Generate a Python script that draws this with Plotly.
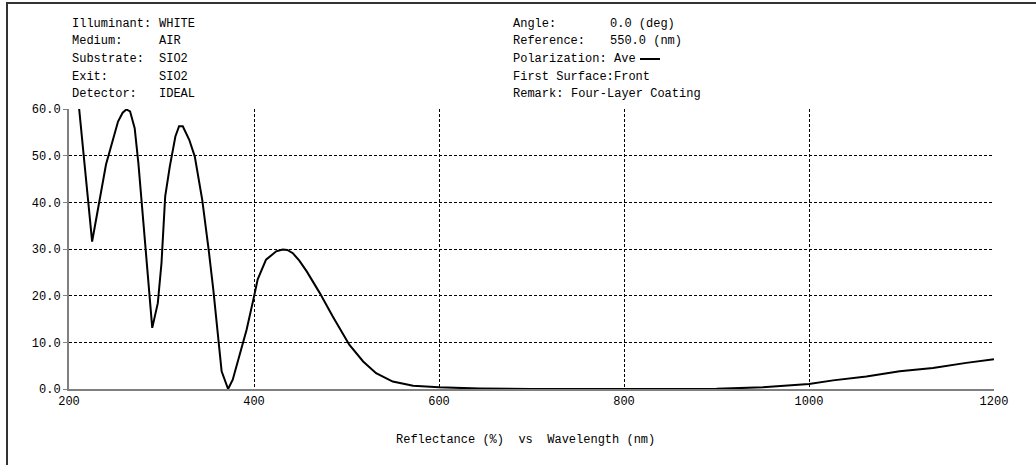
import plotly.graph_objects as go

# Data
wavelength = [210, 225, 240, 253, 258, 262, 266, 271, 275, 279, 283, 287, 290,
              296, 300, 304, 309, 315, 319, 323, 330, 336, 344, 351, 356, 365,
              372, 377, 384, 392, 400, 404, 413, 424, 431, 436, 442, 449, 457,
              471, 485, 503, 518, 532, 550, 572, 600, 644, 700, 800, 900, 950,
              1000, 1026, 1062, 1098, 1134, 1170, 1200]
reflectance = [62.0, 31.6, 48.1, 57.3, 59.2, 59.9, 59.5, 55.9, 48.4, 39.0, 29.8,
               21.3, 13.1, 18.4, 27.0, 41.3, 47.7, 54.1, 56.3, 56.3, 53.4, 49.8,
               40.6, 29.8, 21.3, 3.8, 0.0, 2.0, 7.0, 12.7, 19.8, 23.5, 27.7, 29.5,
               29.9, 29.8, 29.1, 27.5, 25.2, 20.6, 15.6, 9.5, 5.9, 3.4, 1.6, 0.7,
               0.35, 0.1, 0.02, 0.0, 0.05, 0.35, 1.07, 1.85, 2.7, 3.8, 4.5, 5.6, 6.4]

x_ticks = [200, 400, 600, 800, 1000, 1200]
x_tick_labels = ["200", "400", "600", "800", "1000", "1200"]
y_ticks = [0, 10, 20, 30, 40, 50, 60]
y_tick_labels = ["0.0", "10.0", "20.0", "30.0", "40.0", "50.0", "60.0"]

left_labels = ["Illuminant:", "Medium:", "Substrate:", "Exit:", "Detector:"]
left_values = ["WHITE", "AIR", "SIO2", "SIO2", "IDEAL"]
right_labels = ["Angle:", "Reference:", "Polarization:", "First Surface:", "Remark:"]
right_values = ["0.0 (deg)", "550.0 (nm)", "Ave", "Front", "Four-Layer Coating"]
x_title = "Reflectance (%)\u00a0\u00a0vs\u00a0\u00a0Wavelength (nm)"

W, H = 1036, 465
L, R, T, B = 69, 42, 109, 76
pw, ph = W - L - R, H - T - B


def px(x):
    return (x - L) / pw


def py(y):
    return (H - B - y) / ph


MONO = "Liberation Mono"

fig = go.Figure()
fig.add_trace(go.Scatter(x=wavelength, y=reflectance, mode="lines",
                         line=dict(color="black", width=2), showlegend=False))

annotations = []
row_y = [24, 41.5, 59, 76.5, 94]
right_val_x = [608, 608, 612, 612, 569]
for i in range(5):
    annotations.append(dict(x=px(70), y=py(row_y[i]), text=left_labels[i]))
    annotations.append(dict(x=px(157), y=py(row_y[i]), text=left_values[i]))
    annotations.append(dict(x=px(511), y=py(row_y[i]), text=right_labels[i]))
    annotations.append(dict(x=px(right_val_x[i]), y=py(row_y[i]), text=right_values[i]))
for a in annotations:
    a.update(xref="paper", yref="paper", xanchor="left", yanchor="middle",
             showarrow=False, font=dict(family=MONO, size=12, color="black"))
annotations.append(dict(x=px(525), y=py(440), xref="paper", yref="paper",
                        xanchor="center", yanchor="middle", showarrow=False,
                        text=x_title,
                        font=dict(family=MONO, size=12, color="black")))

shapes = [
    dict(type="rect", xref="paper", yref="paper",
         x0=px(7), x1=px(1045), y0=py(475), y1=py(3),
         line=dict(color="#333333", width=2), fillcolor="rgba(0,0,0,0)"),
    dict(type="line", xref="paper", yref="paper",
         x0=px(640), x1=px(660), y0=py(59), y1=py(59),
         line=dict(color="black", width=2)),
]

fig.update_layout(
    width=W, height=H,
    margin=dict(l=L, r=R, t=T, b=B),
    paper_bgcolor="white", plot_bgcolor="white",
    annotations=annotations, shapes=shapes,
    showlegend=False,
    xaxis=dict(range=[200, 1200], tickvals=x_ticks, ticktext=x_tick_labels,
               showgrid=True, gridcolor="black", gridwidth=1, griddash="3px,2px",
               showline=True, linecolor="#808080", linewidth=2,
               ticks="", zeroline=False,
               tickfont=dict(family=MONO, size=12, color="black")),
    yaxis=dict(range=[0, 60], tickvals=y_ticks, ticktext=y_tick_labels,
               showgrid=True, gridcolor="black", gridwidth=1, griddash="3px,2px",
               showline=True, linecolor="#808080", linewidth=2,
               ticks="outside", ticklen=4, tickcolor="#808080",
               zeroline=False,
               tickfont=dict(family=MONO, size=12, color="black")),
)

fig.write_html("out.html",
               config={"displayModeBar": False},
               post_script="document.body.style.margin='0px';")
